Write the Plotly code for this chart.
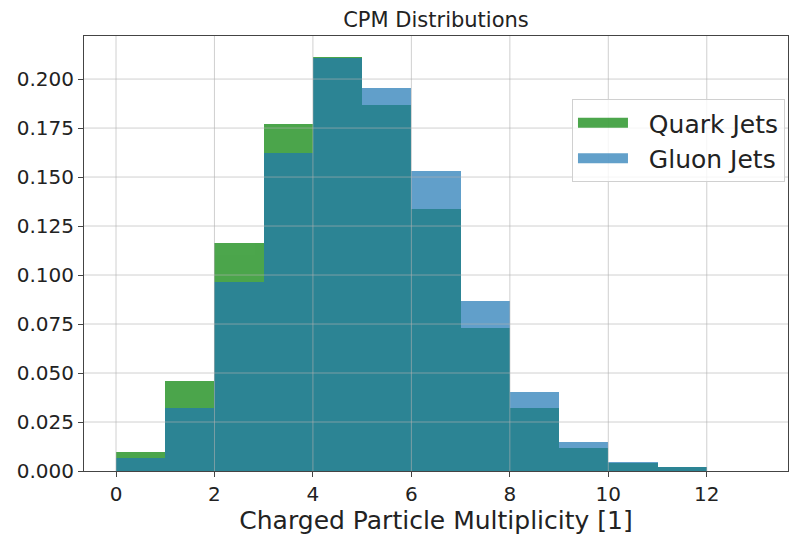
import plotly.graph_objects as go

bin_edges = [0, 1, 2, 3, 4, 5, 6, 7, 8, 9, 10, 11, 12, 13]
quark_vals = [0.0097, 0.0460, 0.1166, 0.1770, 0.2114, 0.1866, 0.1335, 0.0730, 0.0320, 0.0116, 0.0040, 0.0018, 0.0]
gluon_vals = [0.0068, 0.0320, 0.0962, 0.1622, 0.2106, 0.1956, 0.1529, 0.0868, 0.0403, 0.0150, 0.0048, 0.0020, 0.0]
x_ticks = [0, 2, 4, 6, 8, 10, 12]
y_ticks = [0.0, 0.025, 0.05, 0.075, 0.1, 0.125, 0.15, 0.175, 0.2]

centers = [(a + b) / 2 for a, b in zip(bin_edges[:-1], bin_edges[1:])]
widths = [b - a for a, b in zip(bin_edges[:-1], bin_edges[1:])]

FONT = "DejaVu Sans"
GREEN = "rgb(0,128,0)"
BLUE = "#1f77b4"
GRID = "rgba(176,176,176,0.6)"
PAD = "\u00a0\u00a0"

fig = go.Figure()
fig.add_trace(go.Bar(x=centers, y=quark_vals, width=widths, name="Quark Jets", showlegend=False,
                     marker=dict(color=GREEN, line=dict(width=0)), opacity=0.7))
fig.add_trace(go.Bar(x=centers, y=gluon_vals, width=widths, name="Gluon Jets", showlegend=False,
                     marker=dict(color=BLUE, line=dict(width=0)), opacity=0.7))
# legend entries (wide patch handles)
fig.add_trace(go.Scatter(x=[None], y=[None], mode="lines", name=PAD + "Quark Jets",
                         line=dict(color=GREEN, width=17), opacity=0.7))
fig.add_trace(go.Scatter(x=[None], y=[None], mode="lines", name=PAD + "Gluon Jets",
                         line=dict(color=BLUE, width=17), opacity=0.7))

xmin, xmax = -0.65, 13.65
ymax = max(max(quark_vals), max(gluon_vals)) * 1.05

shapes = []
for t in x_ticks:
    shapes.append(dict(type="line", xref="x", yref="paper", x0=t, x1=t, y0=0, y1=1,
                       line=dict(color=GRID, width=1), layer="above"))
for t in y_ticks[1:]:
    shapes.append(dict(type="line", xref="paper", yref="y", x0=0, x1=1, y0=t, y1=t,
                       line=dict(color=GRID, width=1), layer="above"))

fig.update_layout(
    width=790, height=535,
    margin=dict(l=84, r=2, t=36, b=64),
    barmode="overlay",
    bargap=0,
    plot_bgcolor="white",
    paper_bgcolor="white",
    font=dict(family=FONT, color="#222"),
    shapes=shapes,
    title=dict(text="CPM Distributions", x=(84 + 788) / 2 / 790, xanchor="center", y=1 - 20 / 535, yanchor="middle",
               font=dict(family=FONT, size=21, color="#222")),
    xaxis=dict(range=[xmin, xmax], tickvals=x_ticks, ticktext=[str(t) for t in x_ticks],
               showgrid=False,
               showline=True, linecolor="#444", linewidth=1, mirror=True,
               ticks="outside", ticklen=5, tickcolor="#444",
               tickfont=dict(size=20, family=FONT),
               title=dict(text="Charged Particle Multiplicity [1]", font=dict(size=25, family=FONT), standoff=2),
               zeroline=False, layer="above traces"),
    yaxis=dict(range=[0, ymax], tickvals=y_ticks, ticktext=[f"{v:.3f}" for v in y_ticks],
               showgrid=False,
               showline=True, linecolor="#444", linewidth=1, mirror=True,
               ticks="outside", ticklen=5, tickcolor="#444",
               tickfont=dict(size=20, family=FONT),
               zeroline=False, layer="above traces"),
    legend=dict(x=0.9957, xanchor="right", y=0.855, yanchor="top",
                bgcolor="rgba(255,255,255,0.8)", bordercolor="#d0d0d0", borderwidth=1,
                font=dict(size=25, family=FONT), traceorder="normal", itemwidth=50,
                tracegroupgap=0),
    showlegend=True,
)

fig.write_html("out.html")
